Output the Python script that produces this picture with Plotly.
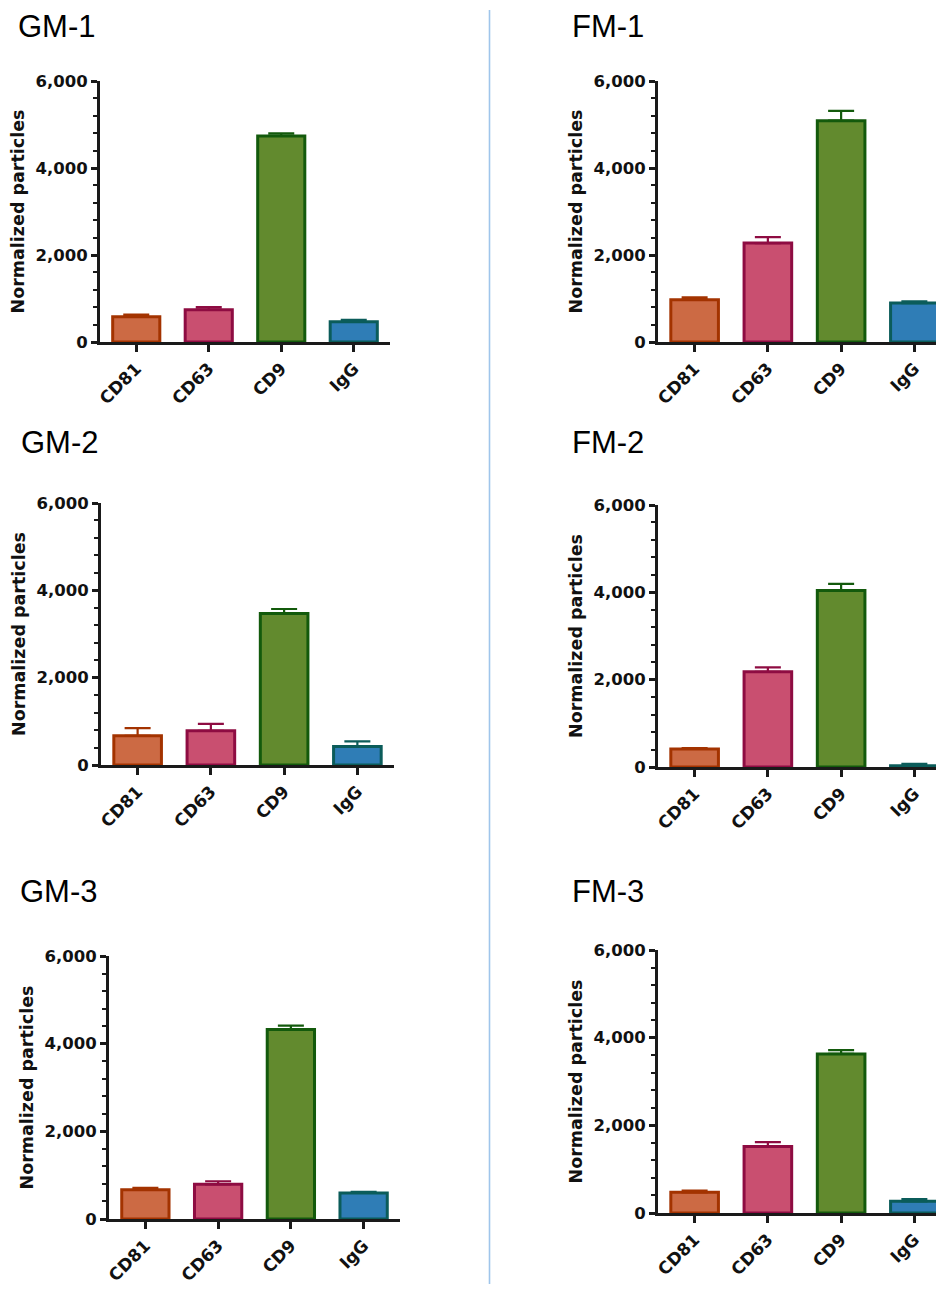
import plotly.graph_objects as go

# ---------------- data ----------------
categories = ["CD81", "CD63", "CD9", "IgG"]
panel_names = ["GM-1", "GM-2", "GM-3", "FM-1", "FM-2", "FM-3"]

gm1_mean = [580, 742, 4737, 467]
gm1_err = [50, 60, 60, 45]
gm2_mean = [670, 784, 3472, 426]
gm2_err = [175, 160, 100, 115]
gm3_mean = [669, 791, 4321, 593]
gm3_err = [40, 70, 90, 25]
fm1_mean = [972, 2273, 5089, 895]
fm1_err = [53, 138, 222, 40]
fm2_mean = [412, 2180, 4041, 30]
fm2_err = [22, 100, 152, 40]
fm3_mean = [471, 1519, 3630, 266]
fm3_err = [38, 100, 84, 53]

y_title = "Normalized particles"

fill_colors = ["#cc6a44", "#c94f70", "#628a2e", "#2f7db6"]
line_colors = ["#a33300", "#8e0c42", "#135a0c", "#0b5c5a"]

means = [gm1_mean, gm2_mean, gm3_mean, fm1_mean, fm2_mean, fm3_mean]
errs = [gm1_err, gm2_err, gm3_err, fm1_err, fm2_err, fm3_err]

# ---------------- layout geometry (pixels, page coordinates) ----------------
OFF = 8                      # default page body margin
W, H = 944 - 2 * OFF, 1292 - 2 * OFF
PAGE_R = OFF + W
# (x_left, x_right, y_top, y_bottom, x_range_end, title_x, title_y)
geom = [
    (100, 390, 81, 342, 3.5, 17, 24),
    (101, 394, 503, 765, 3.5, 20, 443),
    (109, 400, 956, 1219, 3.5, 19, 891),
    (658, 951, 81, 342, 3.5, 571, 25),
    (658, 951, 505, 767, 3.5, 571, 443),
    (658, 951, 950, 1213, 3.5, 571, 891),
]


def px(x):
    return (x - OFF) / W


def py(y):
    return 1 - (y - OFF) / H


AX = "#1a1a1a"
fig = go.Figure()
layout = dict(
    width=W, height=H,
    margin=dict(l=0, r=0, t=0, b=0),
    paper_bgcolor="white", plot_bgcolor="white",
    showlegend=False, barmode="overlay",
    annotations=[], shapes=[],
)

for i in range(6):
    xl, xr, yt, yb, xend, tx, ty = geom[i]
    n = "" if i == 0 else str(i + 1)
    # clip panels that run past the right edge of the page
    right = min(xr, PAGE_R)
    rng_end = -0.5 + (xend + 0.5) * (right - xl) / (xr - xl)
    for j, cat in enumerate(categories):
        fig.add_trace(go.Bar(
            x=[cat], y=[means[i][j]],
            width=0.65,
            marker=dict(color=fill_colors[j],
                        line=dict(color=line_colors[j], width=3)),
            error_y=dict(type="data", symmetric=False,
                         array=[errs[i][j]], arrayminus=[0],
                         color=line_colors[j], thickness=2.2, width=13),
            xaxis="x" + n, yaxis="y" + n,
        ))
    layout["xaxis" + n] = dict(
        domain=[px(xl), px(right)], anchor="y" + n,
        categoryorder="array", categoryarray=categories,
        range=[-0.5, rng_end],
        showline=True, linecolor=AX, linewidth=3,
        ticks="outside", ticklen=7, tickwidth=3, tickcolor=AX,
        tickangle=-45,
        tickfont=dict(family="DejaVu Sans", size=17, color="#111", weight="bold"),
        showgrid=False, zeroline=False, automargin=False, fixedrange=True,
    )
    layout["yaxis" + n] = dict(
        domain=[py(yb), py(yt)], anchor="x" + n,
        range=[0, 6000], tick0=0, dtick=2000, tickformat=",d",
        showline=True, linecolor=AX, linewidth=3,
        ticks="outside", ticklen=6, tickwidth=2.5, tickcolor=AX,
        minor=dict(dtick=400, ticks="outside", ticklen=4, tickwidth=2, tickcolor=AX),
        tickfont=dict(family="DejaVu Sans", size=16.5, color="#111", weight="bold"),
        title=dict(text=y_title, standoff=7,
                   font=dict(family="DejaVu Sans", size=17.5, color="#111", weight="bold")),
        showgrid=False, zeroline=False, automargin=False, fixedrange=True,
    )
    ann = dict(
        text=panel_names[i], xref="paper", yref="paper",
        x=px(tx), xanchor="left", showarrow=False, borderpad=0,
        font=dict(family="Liberation Sans, Arial, sans-serif", size=31, color="#000"),
    )
    if i in (0, 3):
        ann.update(y=1, yanchor="top")
    else:
        ann.update(y=py(ty), yanchor="middle")
    layout["annotations"].append(ann)

layout["shapes"].append(dict(
    type="line", xref="paper", yref="paper",
    x0=px(489.5), x1=px(489.5), y0=py(10), y1=0,
    line=dict(color="#9fc5eb", width=1.6),
))

fig.update_layout(**layout)
fig.write_html("out.html")
